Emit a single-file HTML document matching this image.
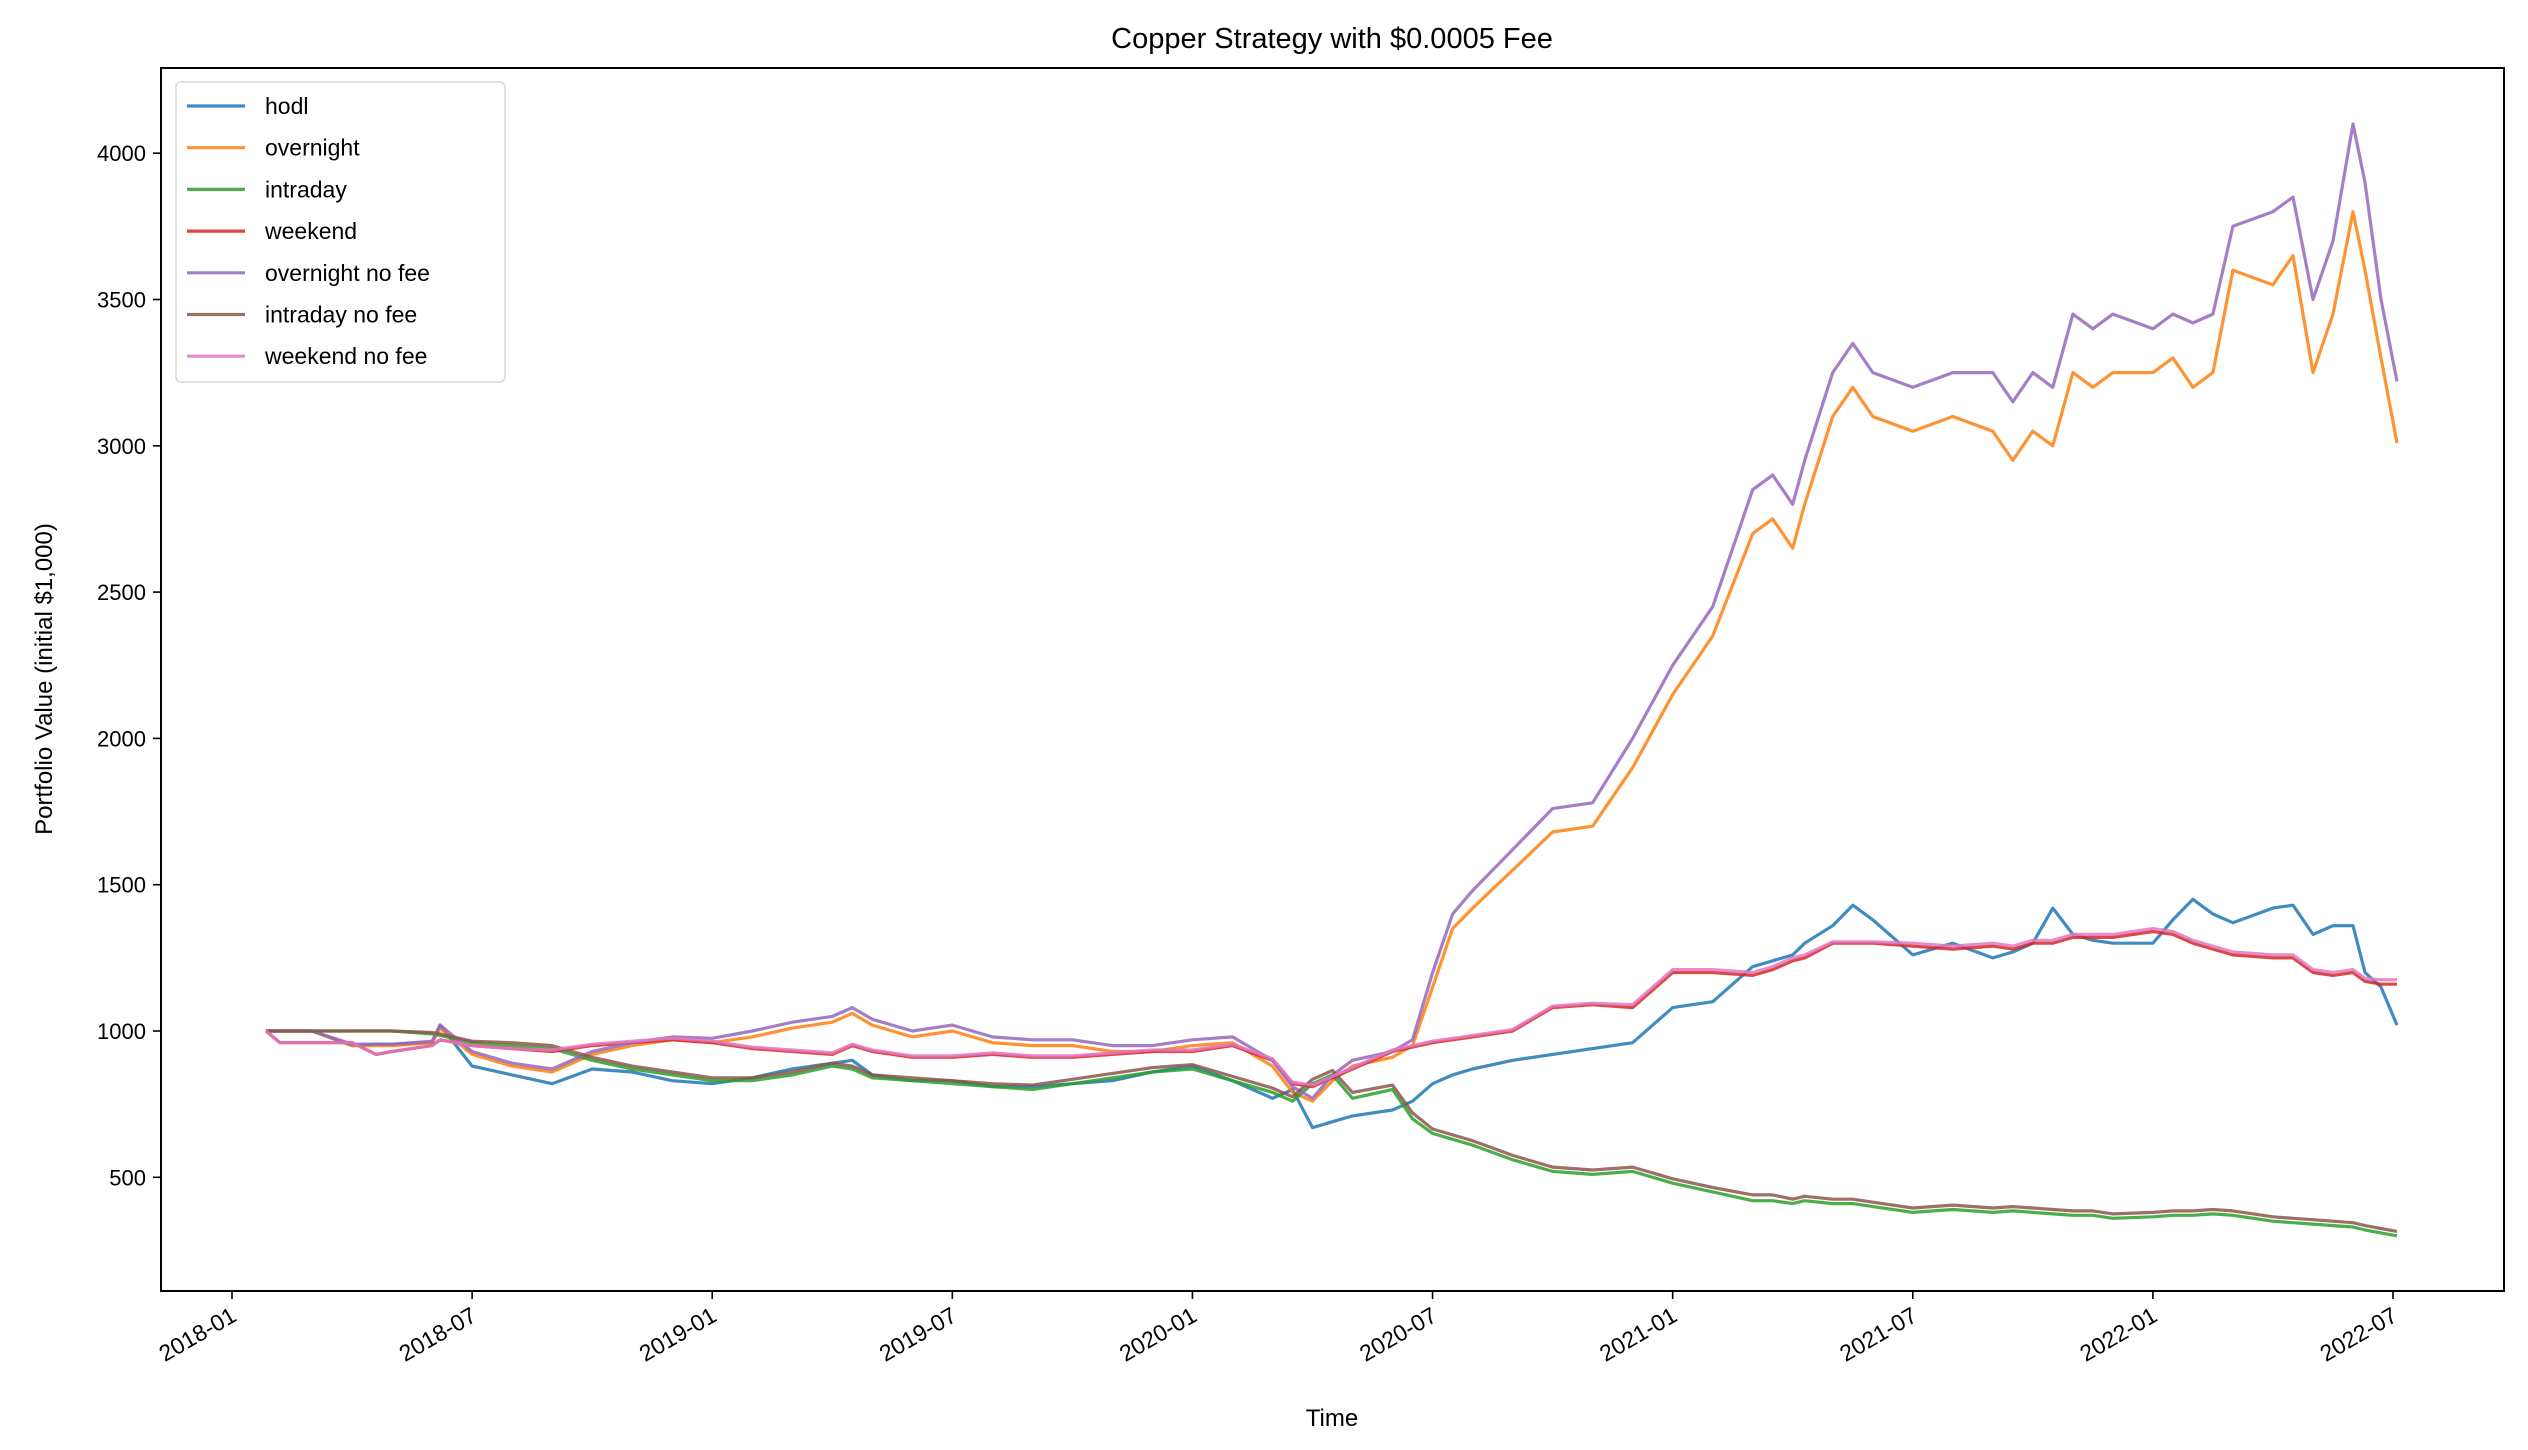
<!DOCTYPE html>
<html><head><meta charset="utf-8">
<style>
html,body{margin:0;padding:0;background:#fff;}
svg{display:block;font-family:"Liberation Sans","DejaVu Sans",sans-serif;}
</style></head>
<body>
<svg id="chart" width="2528" height="1450" viewBox="0 0 2528 1450" xmlns="http://www.w3.org/2000/svg">
<rect width="2528" height="1450" fill="#fff"/>
<text x="1332" y="48" font-size="29" text-anchor="middle">Copper Strategy with $0.0005 Fee</text>
<g id="plot"></g>
<rect x="161" y="68" width="2343" height="1223" fill="none" stroke="#000" stroke-width="2"/>
<g id="xticks"></g>
<g id="yticks"></g>
<text x="1332" y="1426" font-size="24" text-anchor="middle">Time</text>
<text x="0" y="0" font-size="24" text-anchor="middle" transform="translate(52,679) rotate(-90)">Portfolio Value (initial $1,000)</text>
<g id="legend"></g>
</svg>
<script>
const months = [0.85,1.2,2,3,3.6,4,5,5.2,6,7, 8,9,10,11,12,13,14,15,15.5,16, 17,18,19,20,21,22,23,24,25,26, 26.5,27,27.5,28,29,29.5,30,30.5,31,32, 33,34,35,36,37,38,38.5,39,39.3,40, 40.5,41,42,43,44,44.5,45,45.5,46,46.5, 47,48,48.5,49,49.5,50,51,51.5,52,52.5, 53,53.3,53.7,54.1];
const hodl = [1000,1000,1000,950,955,955,960,1020,880,850, 820,870,860,830,820,840,870,890,900,850, 830,830,810,810,820,830,860,880,830,770, 800,670,690,710,730,760,820,850,870,900, 920,940,960,1080,1100,1220,1240,1260,1300,1360, 1430,1380,1260,1300,1250,1270,1300,1420,1330,1310, 1300,1300,1380,1450,1400,1370,1420,1430,1330,1360, 1360,1200,1150,1020];
const overnight = [1000,1000,1000,950,950,950,960,1010,920,880, 860,920,950,970,960,980,1010,1030,1060,1020, 980,1000,960,950,950,930,930,950,960,880, 790,760,830,880,910,950,1150,1350,1420,1550, 1680,1700,1900,2150,2350,2700,2750,2650,2800,3100, 3200,3100,3050,3100,3050,2950,3050,3000,3250,3200, 3250,3250,3300,3200,3250,3600,3550,3650,3250,3450, 3800,3600,3300,3010];
const intraday = [1000,1000,1000,1000,1000,1000,990,985,960,950, 940,900,870,850,830,830,850,880,870,840, 830,820,810,800,820,840,860,870,830,790, 760,820,850,770,800,700,650,630,610,560, 520,510,520,480,450,420,420,410,420,410, 410,400,380,390,380,385,380,375,370,370, 360,365,370,370,375,370,350,345,340,335, 330,320,310,300];
const weekend = [1000,960,960,960,920,930,950,970,950,940, 930,950,960,970,960,940,930,920,950,930, 910,910,920,910,910,920,930,930,950,900, 820,810,840,870,930,945,960,970,980,1000, 1080,1090,1080,1200,1200,1190,1210,1240,1250,1300, 1300,1300,1290,1280,1290,1280,1300,1300,1320,1320, 1320,1340,1330,1300,1280,1260,1250,1250,1200,1190, 1200,1170,1160,1160];
const overnightNoFee = [1000,1000,1000,955,955,955,965,1020,930,890, 870,930,960,980,975,1000,1030,1050,1080,1040, 1000,1020,980,970,970,950,950,970,980,900, 810,770,850,900,930,970,1200,1400,1480,1620, 1760,1780,2000,2250,2450,2850,2900,2800,2950,3250, 3350,3250,3200,3250,3250,3150,3250,3200,3450,3400, 3450,3400,3450,3420,3450,3750,3800,3850,3500,3700, 4100,3900,3500,3220];
const intradayNoFee = [1000,1000,1000,1000,1000,1000,995,990,965,960, 950,910,880,860,840,840,860,890,880,850, 840,830,820,815,835,855,875,885,845,805, 775,835,865,790,815,720,665,645,625,575, 535,525,535,495,465,440,440,425,435,425, 425,415,395,405,395,400,395,390,385,385, 375,380,385,385,390,385,365,360,355,350, 345,335,325,315];
const weekendNoFee = [1000,960,960,960,920,930,950,970,950,940, 935,955,965,975,965,945,935,925,955,935, 915,915,925,915,915,925,935,935,955,905, 825,815,845,875,935,950,965,975,985,1005, 1085,1095,1090,1210,1210,1200,1220,1250,1260,1305, 1305,1305,1300,1290,1300,1290,1310,1310,1330,1330, 1330,1350,1340,1310,1290,1270,1260,1260,1210,1200, 1210,1180,1175,1175];
const seriesNames = ["hodl","overnight","intraday","weekend","overnight no fee","intraday no fee","weekend no fee"];
const seriesColors = ["#1f77b4","#ff7f0e","#2ca02c","#d62728","#9467bd","#8c564b","#e377c2"];
const seriesData = [hodl, overnight, intraday, weekend, overnightNoFee, intradayNoFee, weekendNoFee];
const xTickLabels = ["2018-01","2018-07","2019-01","2019-07","2020-01","2020-07","2021-01","2021-07","2022-01","2022-07"];
const xTickMonths = [0,6,12,18,24,30,36,42,48,54];
const yTickValues = [500,1000,1500,2000,2500,3000,3500,4000];

const NS = "http://www.w3.org/2000/svg";
function xScale(m){ return 232 + m*(2393-232)/54; }
function yScale(v){ return 1031 - (v-1000)*146.3/500; }
function mk(tag, attrs, parent){ const e=document.createElementNS(NS,tag); for(const k in attrs) e.setAttribute(k,attrs[k]); parent.appendChild(e); return e; }

const plot=document.getElementById('plot');
seriesData.forEach((arr,i)=>{
  const d = arr.map((v,j)=>(j?'L':'M')+xScale(months[j]).toFixed(1)+' '+yScale(v).toFixed(1)).join(' ');
  const p = mk('path',{d:d,fill:'none',stroke:seriesColors[i],'stroke-width':3.2,'stroke-opacity':0.85,'stroke-linejoin':'round'},plot);
  
  
});

const xt=document.getElementById('xticks');
xTickMonths.forEach((m,i)=>{
  const x=xScale(m);
  const t=mk('line',{x1:x,x2:x,y1:1291,y2:1299,stroke:'#000','stroke-width':1.6},xt);
  
  
  const lb=mk('text',{x:0,y:0,'font-size':23,'text-anchor':'end',transform:`translate(${x+6},${1320}) rotate(-30)`},xt);
  lb.textContent=xTickLabels[i];
  
  
});
const yt=document.getElementById('yticks');
yTickValues.forEach(v=>{
  const y=yScale(v);
  const t=mk('line',{x1:153,x2:161,y1:y,y2:y,stroke:'#000','stroke-width':1.6},yt);
  
  
  const lb=mk('text',{x:146,y:y+8,'font-size':22,'text-anchor':'end'},yt);
  lb.textContent=v;
  
  
});

const lg=document.getElementById('legend');
const box=mk('rect',{x:176,y:82,width:329,height:300,rx:5,fill:'#fff','fill-opacity':0.8,stroke:'#d9d9d9','stroke-width':1.6},lg);


seriesNames.forEach((n,i)=>{
  const y=106+i*41.7;
  const g=mk('g',{},lg);
  
  
  mk('line',{x1:187,x2:245,y1:y,y2:y,stroke:seriesColors[i],'stroke-width':3.2,'stroke-opacity':0.85},g);
  const t=mk('text',{x:265,y:y+8,'font-size':23},g);
  t.textContent=n;
});
</script>
</body></html>
